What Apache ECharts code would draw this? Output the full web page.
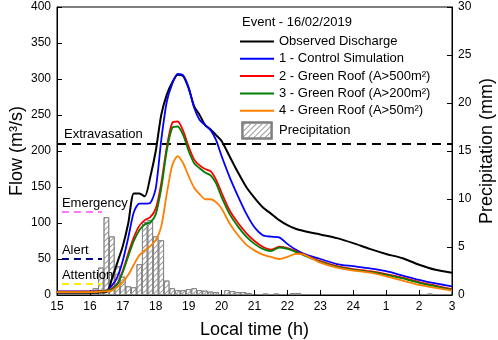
<!DOCTYPE html>
<html><head><meta charset="utf-8">
<script src="https://cdn.jsdelivr.net/npm/echarts@6/dist/echarts.min.js"></script>
<style>html,body{margin:0;padding:0;background:#fff}#c{width:498px;height:340px}</style>
</head><body><div id="c"></div>
<script>
// ---- data ----
const lineTimes = ['15:00','16:00','16:30','16:40','16:50','17:00','17:10','17:20','17:30','17:40','17:50','18:00','18:10','18:20','18:30','18:40','18:50','19:00','19:10','19:20','19:30','19:40','19:50','20:00','20:15','20:30','20:45','21:00','21:15','21:30','21:45','22:00','22:15','22:30','23:00','23:30','00:00','00:30','01:00','01:30','02:00','02:30','03:00'];
const observed = [3,3,4,22,45,68,100,141,141,137,164,200,250,278,295,306,304,287,262,250,236,230,222,214,192,170,150,135,122,113,104,97,92,89,84,79,72,64,57,51,42,35,31];
const control  = [5,5,6,13,25,48,80,115,127,127,128,148,215,268,293,307,305,288,260,243,236,229,215,193,163,137,113,94,83,81,80,71,63,57,50,43,40,37,33,27,21,16,12];
const roof500  = [4.5,4.5,6,9,16,34,58,80,96,104,108,120,155,205,239,241,228,206,188,180,175,172,160,142,117,100,86,75,67,63,67,65,61,56,47,40,36,33,29,24,18,13,8];
const roof200  = [4,4,6,8,15,32,54,75,90,98,101,112,148,200,232,234,222,200,183,176,170,166,155,136,112,95,81,71,64,61,66,64,60,55,46,39,35,32,28,23,17,12,7];
const roof50   = [4,4,5,6,11,18,28,42,55,62,68,76,95,140,180,193,183,165,149,140,133,133,129,120,99,83,70,62,56,53,50,53,57,56,45,38,34,31,26,20,14,10,6];
const precipTimes = ['16:10','16:20','16:30','16:40','16:50','17:00','17:10','17:20','17:30','17:40','17:50','18:00','18:10','18:20','18:30','18:40','18:50','19:00','19:10','19:20','19:30','19:40','19:50','20:10','20:20','20:30','20:40','20:50','21:20','21:40','22:10','22:20','02:20'];
const precipMm    = [0.7,2.85,8.1,6.1,3.0,1.9,0.9,0.8,3.2,7.6,7.8,6.1,5.7,1.5,0.7,0.5,0.5,0.6,0.7,0.5,0.45,0.35,0.3,0.5,0.4,0.3,0.3,0.2,0.15,0.15,0.2,0.2,0.15];
const thresholdNames = ['Extravasation','Emergency','Alert','Attention'];
const thresholdFlows = [210,115,50,15];
const thresholdStart = ['15:00','15:09','15:09','15:09'];
const thresholdEnd   = ['03:00','16:22','16:22','16:22'];
const thresholdColors = ['#000000','#ff77ff','#000080','#ffee00'];
const seriesNames = ['Observed Discharge','1 - Control Simulation','2 - Green Roof (A>500m²)','3 - Green Roof (A>200m²)','4 - Green Roof (A>50m²)'];
const seriesColors = ['#000000','#0000ff','#ff0000','#008000','#ff8000'];
const seriesValues = [observed, control, roof500, roof200, roof50];

const toH = s => { const [h,m] = s.split(':').map(Number); let v = h + m/60; if (h < 12) v += 24; return v; };
const FONT = 'Liberation Sans, Arial, sans-serif';

const chart = echarts.init(document.getElementById('c'), null, {renderer:'canvas'});

const lineSeries = seriesValues.map((vals, k) => ({
  type:'line', name: seriesNames[k], data: lineTimes.map((t,i)=>[toH(t), vals[i]]),
  symbol:'none', smooth:0.25, lineStyle:{color:seriesColors[k], width: k===0?2:1.8}, itemStyle:{color:seriesColors[k]},
  z: 3 + k, animation:false
}));

const markData = thresholdNames.map((n,i)=>[
  {coord:[toH(thresholdStart[i]), thresholdFlows[i]], name:n,
   lineStyle:{color:thresholdColors[i], width: i===0?2.2:2, type: i===0?[9,6]:[7,5]},
   label:{show:true, formatter:n, position:'insideStartTop', distance: i===0?[7,3]:[0,2], color:'#000', fontSize:13, fontFamily:FONT}},
  {coord:[toH(thresholdEnd[i]), thresholdFlows[i]]}
]);

const option = {
  animation:false,
  textStyle:{fontFamily:FONT},
  title:{text:'Event - 16/02/2019', left:242, top:16, padding:0, textStyle:{fontSize:13, fontWeight:'normal', color:'#000', fontFamily:FONT}},
  grid:{left:57, right:46, top:7, bottom:45, show:true, borderColor:'#000', borderWidth:1, containLabel:false, outerBoundsMode:'none'},
  legend:{orient:'vertical', left:240, top:35, itemWidth:34, itemHeight:16, itemGap:4.3, padding:0,
    textStyle:{fontSize:13, color:'#000', fontFamily:FONT},
    data: seriesNames.map(n=>({name:n, icon:'path://M0,0h60v3.5h-60z'})).concat([{name:'Precipitation', icon:'path://M0,0h31v17h-31z'}])
  },
  xAxis:{type:'value', min:15, max:27, interval:1,
    name:'Local time (h)', nameLocation:'middle', nameGap:26, nameTextStyle:{fontSize:18, color:'#000'},
    axisLine:{lineStyle:{color:'#000'}}, axisTick:{inside:true, length:5, lineStyle:{color:'#000'}},
    axisLabel:{fontSize:12, color:'#000', margin:6, formatter:v=> (v>24? v-24 : v)}, splitLine:{show:false}},
  yAxis:[
    {type:'value', min:0, max:400, interval:50, name:'Flow (m³/s)', nameLocation:'middle', nameGap:31, nameMoveOverlap:false,
     nameTextStyle:{fontSize:18, color:'#000'},
     axisLine:{show:true, lineStyle:{color:'#000'}}, axisTick:{show:true, inside:true, length:5, lineStyle:{color:'#000'}},
     axisLabel:{fontSize:12, color:'#000', margin:6}, splitLine:{show:false}},
    {type:'value', min:0, max:30, interval:5, name:'Precipitation (mm)', nameLocation:'middle', nameGap:26, nameMoveOverlap:false,
     nameTextStyle:{fontSize:18, color:'#000'}, position:'right',
     axisLine:{show:true, lineStyle:{color:'#000'}}, axisTick:{show:true, inside:true, length:5, lineStyle:{color:'#000'}},
     axisLabel:{fontSize:12, color:'#000', margin:6}, splitLine:{show:false}}
  ],
  series:[
    {type:'bar', name:'Precipitation', yAxisIndex:1, barWidth:5.5, z:1,
     data: precipTimes.map((t,i)=>[toH(t), precipMm[i]]),
     itemStyle:{color:'#ffffff', borderColor:'#7f7f7f', borderWidth:0.8,
       decal:{symbol:'rect', symbolSize:1, dashArrayX:[1,0], dashArrayY:[1,2.5], rotation:-Math.PI/4, color:'#9a9a9a'}}},
    ...lineSeries,
    {type:'line', name:'thresholds', data:[], z:2,
     markLine:{symbol:'none', silent:true, animation:false, data:markData}}
  ]
};
chart.setOption(option);
</script></body></html>
